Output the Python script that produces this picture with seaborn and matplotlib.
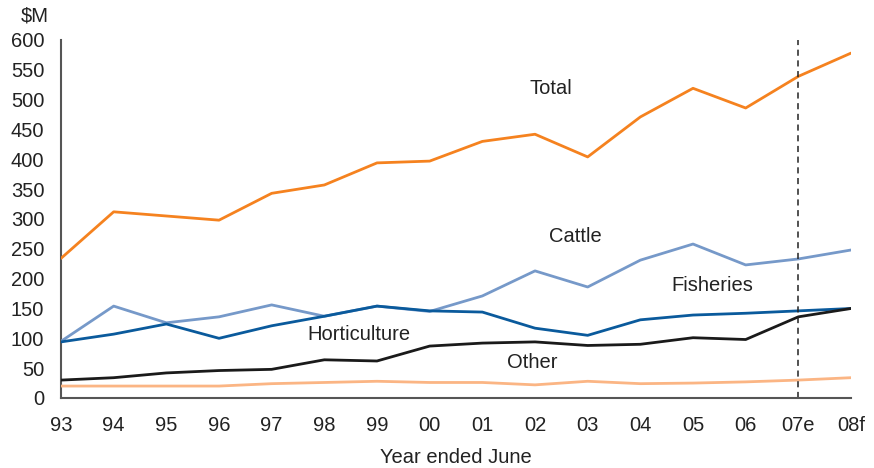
import numpy as np
import pandas as pd
import matplotlib
matplotlib.use("Agg")
import matplotlib.pyplot as plt
import seaborn as sns

# Data ($M, year ended June)
years = ["93", "94", "95", "96", "97", "98", "99", "00", "01", "02", "03", "04", "05", "06", "07e", "08f"]
total = [234, 312, 305, 298, 343, 357, 394, 397, 430, 442, 404, 471, 519, 486, 539, 578]
cattle = [95, 154, 126, 136, 156, 137, 154, 145, 171, 213, 186, 231, 258, 223, 233, 248]
fisheries = [94, 107, 124, 100, 121, 137, 154, 146, 144, 117, 105, 131, 139, 142, 146, 150]
horticulture = [30, 34, 42, 46, 48, 64, 62, 87, 92, 94, 88, 90, 101, 98, 136, 150]
other = [20, 20, 20, 20, 24, 26, 28, 26, 26, 22, 28, 24, 25, 27, 30, 34]

series = ["Total", "Cattle", "Fisheries", "Horticulture", "Other"]
colors = ["#F5821F", "#7699C9", "#0A5A9C", "#1A1A1A", "#FBB584"]

df = pd.DataFrame({"year": years, "Total": total, "Cattle": cattle,
                   "Fisheries": fisheries, "Horticulture": horticulture, "Other": other})
df["pos"] = np.arange(len(years))
long = df.melt(id_vars=["year", "pos"], value_vars=series, var_name="series", value_name="value")

sns.set_style("white")
plt.rcParams["font.family"] = ["Liberation Sans", "DejaVu Sans"]

fig = plt.figure(figsize=(8.74, 4.68), dpi=100)
ax = fig.add_axes([0.0698, 0.1496, 0.9039, 0.765])

sns.lineplot(data=long, x="pos", y="value", hue="series", hue_order=series,
             palette=dict(zip(series, colors)), linewidth=2, legend=False, ax=ax)

# forecast divider
ax.axvline(years.index("07e"), color="#222222", linestyle=(0, (4, 3)), linewidth=1.1)

# inline series labels
labels = {"Total": (9.3, 518), "Cattle": (9.77, 270), "Fisheries": (12.37, 189),
          "Horticulture": (5.65, 107), "Other": (8.94, 59)}
for name, (lx, ly) in labels.items():
    ax.text(lx, ly, name, ha="center", va="center", fontsize=14.5, color="#222222")

ax.set_xlim(0, len(years) - 1)
ax.set_ylim(0, 600)
ax.set_xticks(df["pos"])
ax.set_xticklabels(years)
ax.set_yticks(np.arange(0, 601, 50))
ax.tick_params(axis="both", length=0, labelsize=14.5, colors="#222222")
ax.tick_params(axis="x", pad=13)
ax.tick_params(axis="y", pad=12)
ax.set_xlabel("Year ended June", fontsize=14.5, color="#222222", labelpad=9)
ax.set_ylabel("")
sns.despine(ax=ax)
for s in ["left", "bottom"]:
    ax.spines[s].set_color("#555555")
    ax.spines[s].set_linewidth(1.5)
ax.spines["left"].set_zorder(0)
fig.text(0.04, 0.966, "$M", ha="center", va="center", fontsize=14.5, color="#222222")

fig.savefig("out.png", dpi=100)
